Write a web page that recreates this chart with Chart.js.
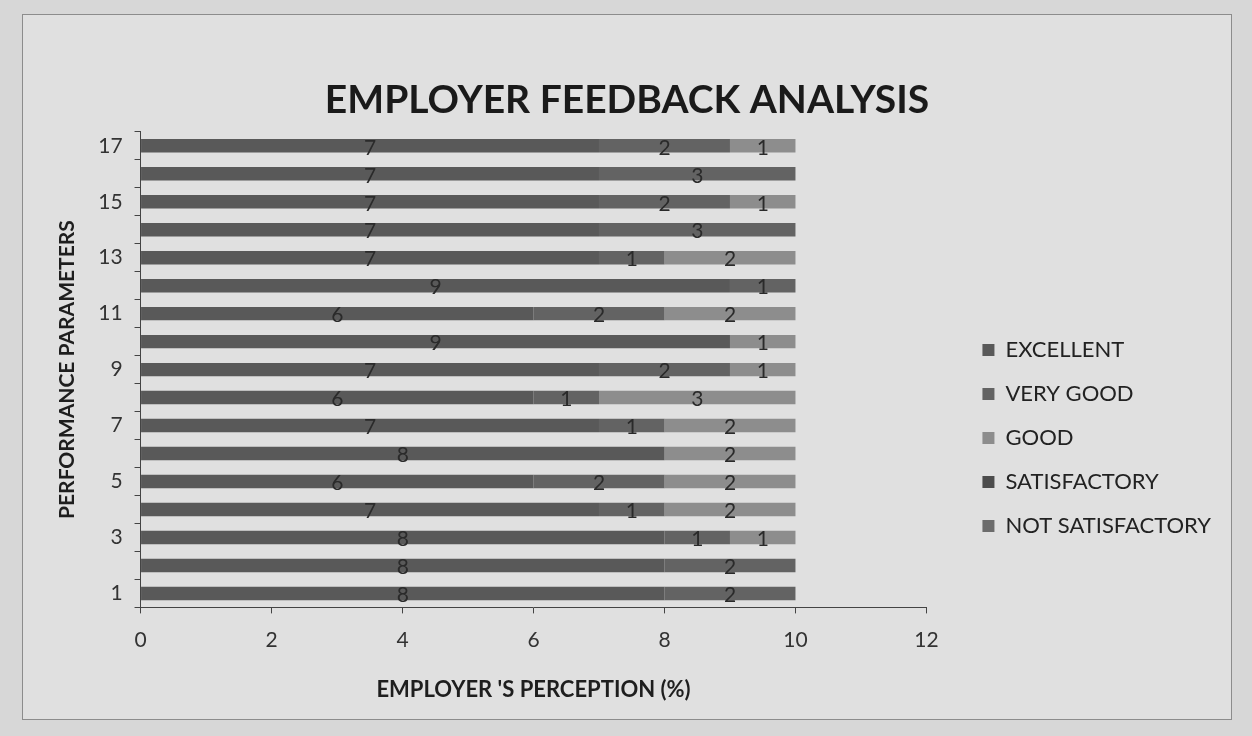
<!DOCTYPE html>
<html>
<head>
<meta charset="utf-8">
<script src="https://cdn.jsdelivr.net/npm/chart.js@4.4.1/dist/chart.umd.min.js"></script>
<style>
  html, body { margin: 0; padding: 0; background: #d7d7d7; width: 1252px; height: 736px; overflow: hidden; }
  #frame { position: absolute; left: 22px; top: 14px; width: 1208px; height: 704px; border: 1px solid #8c8c8c; background: #e0e0e0; }
  canvas { display: block; }
</style>
</head>
<body>
<div id="frame"><canvas id="c" width="1208" height="704"></canvas></div>
<script>
// Categories (performance parameters, bottom to top)
const parameters = ['1','2','3','4','5','6','7','8','9','10','11','12','13','14','15','16','17'];
// Series values
const excellent       = [8, 8, 8, 7, 6, 8, 7, 6, 7, 9, 6, 9, 7, 7, 7, 7, 7];
const veryGood        = [2, 2, 1, 1, 2, null, 1, 1, 2, null, 2, 1, 1, 3, 2, 3, 2];
const good            = [null, null, 1, 2, 2, 2, 2, 3, 1, 1, 2, null, 2, null, 1, null, 1];
const satisfactory    = [null, null, null, null, null, null, null, null, null, null, null, null, null, null, null, null, null];
const notSatisfactory = [null, null, null, null, null, null, null, null, null, null, null, null, null, null, null, null, null];
const seriesNames = ['EXCELLENT', 'VERY GOOD', 'GOOD', 'SATISFACTORY', 'NOT SATISFACTORY'];
const xTicks = [0, 2, 4, 6, 8, 10, 12];

const FONT = 'Lato, "Open Sans", sans-serif';

const labelPlugin = {
  id: 'barLabels',
  afterDatasetsDraw(chart) {
    const ctx = chart.ctx;
    ctx.save();
    ctx.font = '21px ' + FONT;
    ctx.fillStyle = '#2a2a2a';
    ctx.textAlign = 'center';
    ctx.textBaseline = 'middle';
    chart.data.datasets.forEach((ds, i) => {
      const meta = chart.getDatasetMeta(i);
      if (meta.hidden) return;
      meta.data.forEach((el, j) => {
        const v = ds.data[j];
        if (v === null || v === undefined || v === 0) return;
        const cx = (el.x + el.base) / 2;
        ctx.fillText(String(v), cx, el.y + 2);
      });
    });
    ctx.restore();
  }
};

const barOpts = { barPercentage: 0.48, categoryPercentage: 1.0, borderWidth: 0 };

function draw() {
  new Chart(document.getElementById('c'), {
    type: 'bar',
    data: {
      labels: parameters,
      datasets: [
        Object.assign({ label: seriesNames[0], data: excellent,       backgroundColor: '#595959' }, barOpts),
        Object.assign({ label: seriesNames[1], data: veryGood,        backgroundColor: '#636363' }, barOpts),
        Object.assign({ label: seriesNames[2], data: good,            backgroundColor: '#8d8d8d' }, barOpts),
        Object.assign({ label: seriesNames[3], data: satisfactory,    backgroundColor: '#4c4c4c' }, barOpts),
        Object.assign({ label: seriesNames[4], data: notSatisfactory, backgroundColor: '#6c6c6c' }, barOpts)
      ]
    },
    options: {
      indexAxis: 'y',
      responsive: false,
      animation: false,
      layout: { padding: { left: 10, right: 10, top: 0, bottom: 16 } },
      plugins: {
        title: {
          display: true,
          text: 'EMPLOYER FEEDBACK ANALYSIS',
          color: '#1a1a1a',
          font: { family: FONT, size: 39, weight: 'bold' },
          padding: { top: 62, bottom: 8 }
        },
        legend: {
          position: 'right',
          align: 'start',
          maxWidth: 400,
          title: { display: true, text: ' ', font: { size: 10 }, padding: { top: 0, bottom: 290 } },
          labels: {
            color: '#222',
            font: { family: FONT, size: 22 },
            boxWidth: 12,
            boxHeight: 12,
            padding: 22
          }
        },
        tooltip: { enabled: false }
      },
      scales: {
        x: {
          type: 'linear',
          stacked: true,
          min: 0,
          max: 12,
          afterBuildTicks(axis) { axis.ticks = xTicks.map(v => ({ value: v })); },
          ticks: { color: '#333', font: { family: FONT, size: 21 }, padding: 14 },
          grid: { drawOnChartArea: false, drawTicks: true, tickLength: 6, color: '#444' },
          border: { display: true, color: '#444', width: 1 },
          title: {
            display: true,
            text: "EMPLOYER 'S PERCEPTION (%)",
            color: '#1e1e1e',
            font: { family: FONT, size: 22, weight: 'bold' },
            padding: { top: 10, bottom: 0 }
          }
        },
        y: {
          type: 'category',
          stacked: true,
          reverse: true,
          ticks: {
            autoSkip: false,
            color: '#333',
            font: { family: FONT, size: 21 },
            padding: 12,
            callback(value, index) {
              const lbl = parameters[index];
              return (Number(lbl) % 2 === 1) ? lbl : '';
            }
          },
          grid: { offset: true, drawOnChartArea: false, drawTicks: true, tickLength: 6, color: '#444' },
          border: { display: true, color: '#444', width: 1 },
          title: {
            display: true,
            text: 'PERFORMANCE PARAMETERS',
            color: '#1e1e1e',
            font: { family: FONT, size: 21, weight: 'bold' },
            padding: { top: 22, bottom: 6 }
          }
        },
        gap: {
          type: 'linear',
          axis: 'y',
          position: 'right',
          display: true,
          ticks: { display: false },
          grid: { display: false },
          border: { display: false },
          afterFit(axis) { axis.width = 34; }
        }
      }
    },
    plugins: [labelPlugin]
  });
}

let drawn = false;
function go() { if (!drawn) { drawn = true; draw(); } }
if (document.fonts && document.fonts.load) {
  Promise.all([
    document.fonts.load('21px Lato'),
    document.fonts.load('bold 21px Lato')
  ]).then(go, go);
  setTimeout(go, 300);
} else {
  go();
}
</script>
</body>
</html>
